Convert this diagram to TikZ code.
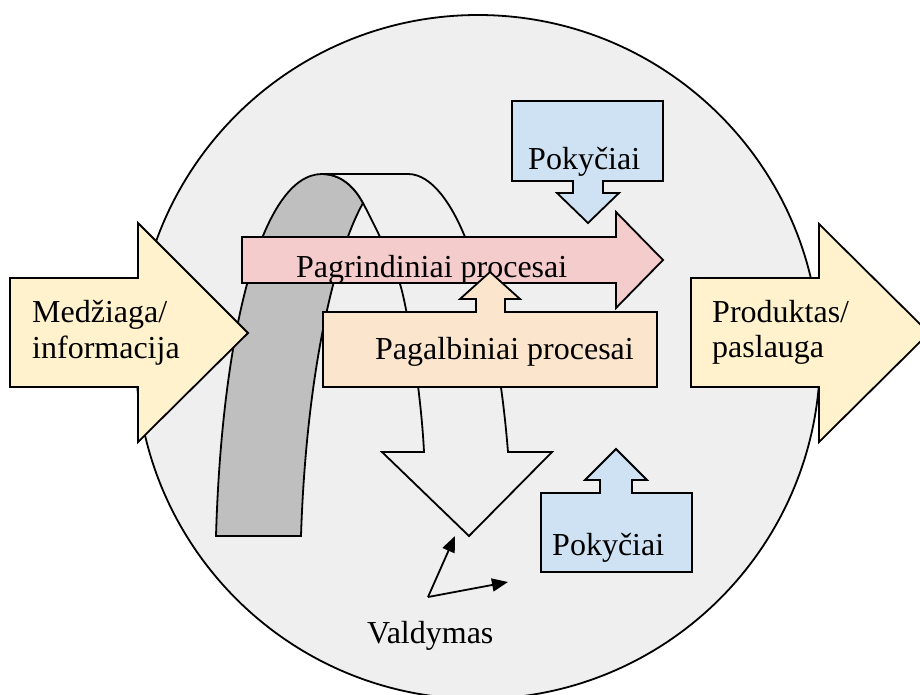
\documentclass[tikz,border=0pt]{standalone}
\usepackage{fontspec}
\setmainfont{Liberation Serif}
\usetikzlibrary{arrows.meta}
\definecolor{bgcircle}{HTML}{EFEFEF}
\definecolor{bandgrey}{HTML}{BFBFBF}
\definecolor{mainred}{HTML}{F4CCCC}
\definecolor{supportorange}{HTML}{FCE5CD}
\definecolor{flowyellow}{HTML}{FFF2CC}
\definecolor{changeblue}{HTML}{CFE2F3}
\begin{document}
\begin{tikzpicture}[x=1pt,y=-1pt,
  outline/.style={draw=black, line width=1.8pt, line join=miter},
  lbl/.style={font=\fontsize{32}{38}\selectfont, inner sep=0pt, anchor=base west},
  ctrl/.style={draw=black, line width=1.8pt, -{Triangle[length=16pt,width=13pt]}}]
\clip (0,0) rectangle (920,694);
\fill[white] (0,0) rectangle (920,694);

% organisation (background circle)
\filldraw[outline, fill=bgcircle] (478,357) circle[radius=342pt];

% back side of the control loop ribbon
\filldraw[outline, fill=bandgrey]
  (216,536) .. controls (222,330) and (262,174) .. (322,174)
  .. controls (340,174) and (354,186) .. (363,203)
  .. controls (333,257) and (306,380) .. (301,536) -- cycle;

% front side of the loop, ending in the control arrow
\filldraw[outline, fill=bgcircle]
  (322,174) -- (408,174)
  .. controls (432,174) and (452,205) .. (465,237)
  .. controls (478,270) and (499,340) .. (508,452)
  -- (552,452) -- (469,536) -- (382,452) -- (424,452)
  .. controls (421,390) and (407,306) .. (400,284)
  .. controls (393,262) and (372,220) .. (363,203)
  .. controls (354,186) and (340,174) .. (322,174) -- cycle;

% input and output arrows
\filldraw[outline, fill=flowyellow]
  (10,278) -- (138,278) -- (138,223) -- (248,333) -- (138,442) -- (138,387) -- (10,387) -- cycle;
\node[lbl] (in1) at (32,322) {Medžiaga/};
\node[lbl] (in2) at (32,358) {informacija};

\filldraw[outline, fill=flowyellow]
  (691,278) -- (819,278) -- (819,224) -- (929,333) -- (819,442) -- (819,387) -- (691,387) -- cycle;
\node[lbl] (out1) at (712,322) {Produktas/};
\node[lbl] (out2) at (712,357) {paslauga};

% core processes
\filldraw[outline, fill=mainred]
  (242,237) -- (616,237) -- (616,212) -- (663,260) -- (616,308) -- (616,283) -- (242,283) -- cycle;
\node[lbl] (core) at (296,277) {Pagrindiniai procesai};

% support processes
\filldraw[outline, fill=supportorange]
  (323,312) -- (476,312) -- (476,299) -- (460,299) -- (490,272) -- (520,299) -- (505,299)
  -- (505,312) -- (657,312) -- (657,387) -- (323,387) -- cycle;
\node[lbl] (support) at (375,359) {Pagalbiniai procesai};

% changes
\filldraw[outline, fill=changeblue]
  (512,101) -- (663,101) -- (663,181) -- (603,181) -- (603,193) -- (619,193) -- (588,223)
  -- (557,193) -- (573,193) -- (573,181) -- (512,181) -- cycle;
\node[lbl] (chg1) at (528,169) {Pokyčiai};

\filldraw[outline, fill=changeblue]
  (541,493) -- (600,493) -- (600,480) -- (585,480) -- (616,449) -- (647,480) -- (632,480)
  -- (632,493) -- (692,493) -- (692,572) -- (541,572) -- cycle;
\node[lbl] (chg2) at (552,555) {Pokyčiai};

% management
\node[lbl] (mgmt) at (367,643) {Valdymas};
\coordinate (m0) at (428,597);
\coordinate (m1) at (455,536);
\coordinate (m2) at (508,582);
\draw[ctrl] (m0) -- (m1);
\draw[ctrl] (m0) -- (m2);
\end{tikzpicture}
\end{document}
